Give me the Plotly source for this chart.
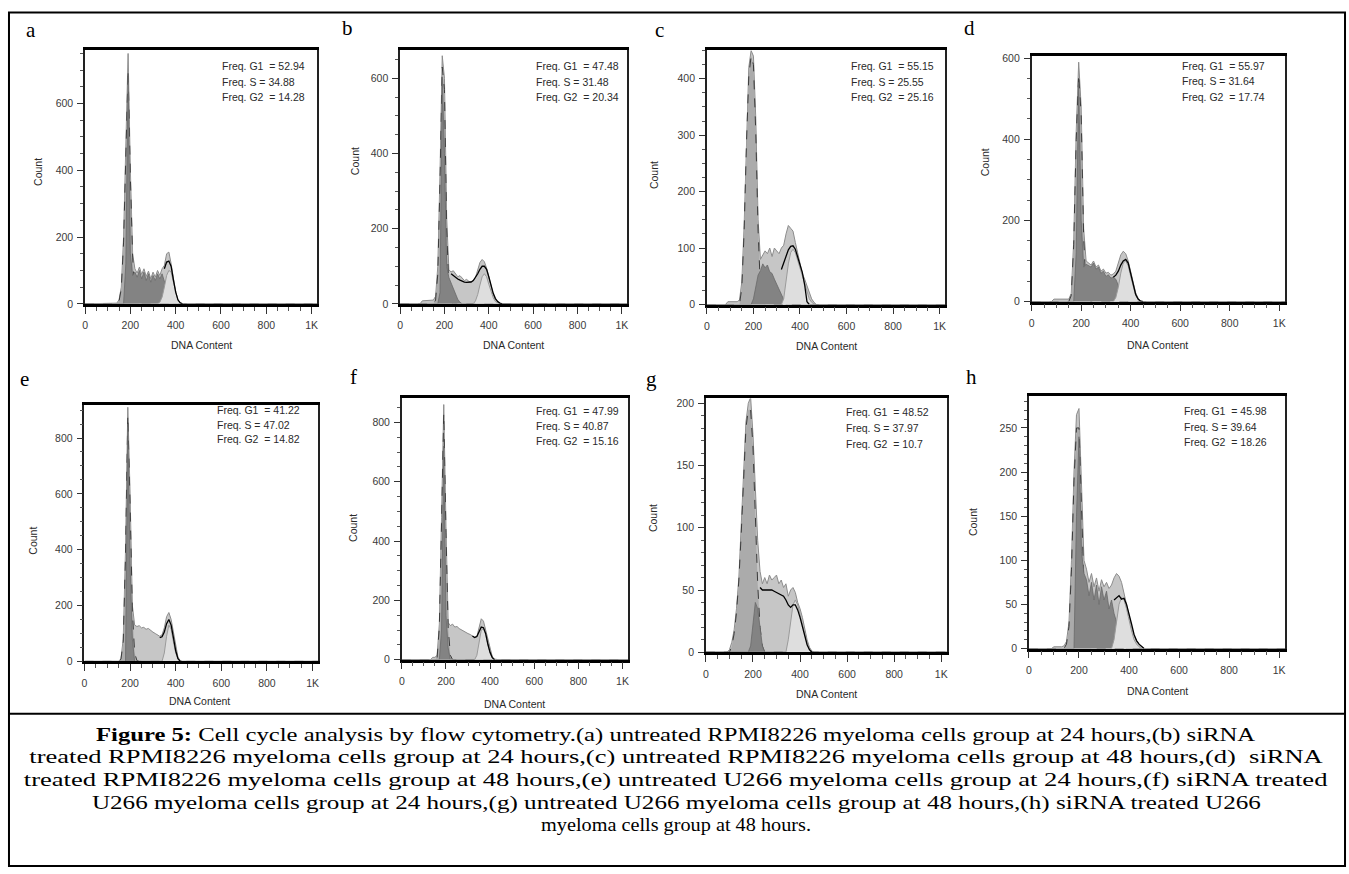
import plotly.graph_objects as go

W, H = 1349, 874

# ---------------- data ----------------
dna_bins = [80, 90, 100, 110, 120, 130, 140, 150, 160, 170,
            180, 190, 200, 210, 220, 230, 240, 250, 260, 270,
            280, 290, 300, 310, 320, 330, 340, 350, 360, 370,
            380, 390, 400, 410, 420, 430, 440, 450, 460, 470,
            480]
N = None

# panel a
a_total = [0, 0, 0, 0, 0, 0, 2, 12, 50, 200,
           480, 750, 400, 150, 105, 92, 110, 88, 105, 82,
           98, 75, 95, 80, 100, 85, 105, 115, 150, 155,
           120, 70, 35, 12, 3, 0, 0, 0, 0, 0, 0]
a_g1 = [0, 0, 0, 0, 0, 0, 0, 8, 45, 185,
        460, 700, 380, 140, 35, 5, 0, 0, 0, 0,
        0, 0, 0, 0, 0, 0, 0, 0, 0, 0,
        0, 0, 0, 0, 0, 0, 0, 0, 0, 0, 0]
a_core = [0, 0, 0, 0, 0, 0, 0, 0, 0, 0,
          120, 690, 150, 85, 95, 80, 100, 75, 95, 70,
          90, 65, 85, 70, 90, 75, 90, 70, 45, 20,
          8, 2, 0, 0, 0, 0, 0, 0, 0, 0, 0]
a_g2 = [0, 0, 0, 0, 0, 0, 0, 0, 0, 0,
        0, 0, 0, 0, 0, 0, 0, 0, 0, 0,
        0, 0, 0, 0, 0, 5, 20, 50, 85, 100,
        95, 65, 32, 10, 2, 0, 0, 0, 0, 0, 0]
a_fit = [N, N, N, N, N, N, N, N, N, N,
         N, N, N, N, N, N, N, N, N, N,
         N, N, N, N, N, N, N, 105, 125, 128,
         112, 72, 35, 12, 3, 0, N, N, N, N, N]

# panel b
b_total = [0, 0, 8, 8, 8, 8, 8, 10, 20, 100,
           350, 660, 600, 230, 90, 85, 88, 80, 72, 75,
           68, 62, 65, 60, 58, 62, 70, 90, 110, 118,
           112, 95, 70, 45, 25, 12, 5, 1, 0, 0, 0]
b_g1 = [0, 0, 0, 0, 0, 0, 0, 0, 10, 80,
        330, 630, 570, 200, 40, 5, 0, 0, 0, 0,
        0, 0, 0, 0, 0, 0, 0, 0, 0, 0,
        0, 0, 0, 0, 0, 0, 0, 0, 0, 0, 0]
b_core = [0, 0, 0, 0, 0, 0, 0, 0, 0, 0,
          30, 600, 400, 100, 70, 55, 40, 25, 12, 4,
          0, 0, 0, 0, 0, 0, 0, 0, 0, 0,
          0, 0, 0, 0, 0, 0, 0, 0, 0, 0, 0]
b_g2 = [0, 0, 0, 0, 0, 0, 0, 0, 0, 0,
        0, 0, 0, 0, 0, 0, 0, 0, 0, 0,
        0, 0, 0, 0, 0, 0, 8, 25, 50, 72,
        80, 72, 52, 32, 16, 6, 2, 0, 0, 0, 0]
b_fit = [N, N, N, N, N, N, N, N, N, N,
         N, N, N, N, N, 80, 75, 70, 66, 63,
         60, 58, 57, 57, 58, 62, 70, 80, 92, 100,
         100, 92, 72, 48, 28, 14, 6, 2, 0, N, N]

# panel c
c_total = [0, 5, 5, 5, 5, 5, 8, 40, 140, 300,
           420, 450, 440, 330, 150, 80, 88, 95, 90, 100,
           85, 100, 95, 90, 100, 105, 125, 140, 135, 130,
           110, 90, 70, 55, 45, 32, 20, 10, 4, 0, 0]
c_g1 = [0, 0, 0, 0, 0, 0, 0, 30, 130, 285,
        405, 440, 425, 305, 130, 30, 5, 0, 0, 0,
        0, 0, 0, 0, 0, 0, 0, 0, 0, 0,
        0, 0, 0, 0, 0, 0, 0, 0, 0, 0, 0]
c_core = [0, 0, 0, 0, 0, 0, 0, 0, 0, 0,
          0, 0, 10, 30, 52, 60, 72, 65, 70, 58,
          55, 45, 36, 25, 15, 6, 0, 0, 0, 0,
          0, 0, 0, 0, 0, 0, 0, 0, 0, 0, 0]
c_g2 = [0, 0, 0, 0, 0, 0, 0, 0, 0, 0,
        0, 0, 0, 0, 0, 0, 0, 0, 0, 0,
        0, 0, 0, 0, 0, 10, 40, 72, 92, 98,
        92, 78, 62, 50, 35, 20, 10, 4, 1, 0, 0]
c_fit = [N, N, N, N, N, N, N, N, N, N,
         N, N, N, N, N, N, N, N, N, N,
         N, N, N, N, 62, 75, 88, 97, 103, 104,
         98, 85, 70, 57, 35, 5, 0, N, N, N, N]

# panel d
d_total = [0, 6, 6, 6, 6, 6, 6, 6, 20, 150,
           420, 590, 480, 180, 100, 95, 90, 100, 85, 90,
           75, 80, 70, 72, 65, 68, 75, 95, 115, 124,
           118, 100, 72, 45, 22, 8, 2, 0, 0, 0, 0]
d_g1 = [0, 0, 0, 0, 0, 0, 0, 0, 15, 140,
        400, 560, 460, 160, 30, 5, 0, 0, 0, 0,
        0, 0, 0, 0, 0, 0, 0, 0, 0, 0,
        0, 0, 0, 0, 0, 0, 0, 0, 0, 0, 0]
d_core = [0, 0, 0, 0, 0, 0, 0, 0, 0, 0,
          120, 540, 200, 85, 92, 88, 85, 95, 80, 85,
          70, 75, 62, 66, 58, 60, 55, 40, 25, 12,
          4, 0, 0, 0, 0, 0, 0, 0, 0, 0, 0]
d_g2 = [0, 0, 0, 0, 0, 0, 0, 0, 0, 0,
        0, 0, 0, 0, 0, 0, 0, 0, 0, 0,
        0, 0, 0, 0, 0, 0, 10, 35, 70, 95,
        100, 88, 62, 35, 15, 5, 1, 0, 0, 0, 0]
d_fit = [N, N, N, N, N, N, N, N, N, N,
         N, N, N, N, N, N, N, N, N, N,
         N, N, N, N, N, 60, 65, 75, 90, 100,
         104, 95, 70, 42, 18, 6, 1, 0, N, N, N]

# panel e
e_total = [0, 0, 0, 0, 0, 0, 0, 0, 10, 80,
           400, 910, 600, 200, 130, 125, 128, 120, 122, 115,
           118, 110, 105, 100, 95, 90, 95, 120, 160, 175,
           150, 100, 50, 15, 3, 0, 0, 0, 0, 0, 0]
e_g1 = [0, 0, 0, 0, 0, 0, 0, 0, 8, 70,
        380, 880, 560, 180, 30, 3, 0, 0, 0, 0,
        0, 0, 0, 0, 0, 0, 0, 0, 0, 0,
        0, 0, 0, 0, 0, 0, 0, 0, 0, 0, 0]
e_core = [0, 0, 0, 0, 0, 0, 0, 0, 0, 0,
          0, 850, 350, 80, 0, 0, 0, 0, 0, 0,
          0, 0, 0, 0, 0, 0, 0, 0, 0, 0,
          0, 0, 0, 0, 0, 0, 0, 0, 0, 0, 0]
e_g2 = [0, 0, 0, 0, 0, 0, 0, 0, 0, 0,
        0, 0, 0, 0, 0, 0, 0, 0, 0, 0,
        0, 0, 0, 0, 0, 0, 0, 30, 90, 130,
        115, 70, 30, 8, 0, 0, 0, 0, 0, 0, 0]
e_fit = [N, N, N, N, N, N, N, N, N, N,
         N, N, N, N, N, N, N, N, N, N,
         N, N, N, N, N, 85, 88, 105, 135, 150,
         130, 85, 38, 10, 0, N, N, N, N, N, N]

# panel f
f_total = [0, 0, 0, 0, 0, 0, 8, 8, 15, 120,
           480, 860, 450, 125, 115, 120, 110, 112, 105, 100,
           98, 92, 88, 85, 80, 75, 78, 110, 138, 130,
           100, 60, 30, 10, 2, 0, 0, 0, 0, 0, 0]
f_g1 = [0, 0, 0, 0, 0, 0, 0, 0, 8, 110,
        460, 830, 430, 110, 15, 0, 0, 0, 0, 0,
        0, 0, 0, 0, 0, 0, 0, 0, 0, 0,
        0, 0, 0, 0, 0, 0, 0, 0, 0, 0, 0]
f_core = [0, 0, 0, 0, 0, 0, 0, 0, 0, 0,
          100, 720, 150, 40, 0, 0, 0, 0, 0, 0,
          0, 0, 0, 0, 0, 0, 0, 0, 0, 0,
          0, 0, 0, 0, 0, 0, 0, 0, 0, 0, 0]
f_g2 = [0, 0, 0, 0, 0, 0, 0, 0, 0, 0,
        0, 0, 0, 0, 0, 0, 0, 0, 0, 0,
        0, 0, 0, 0, 0, 0, 15, 60, 100, 105,
        85, 50, 22, 6, 0, 0, 0, 0, 0, 0, 0]
f_fit = [N, N, N, N, N, N, N, N, N, N,
         N, N, N, N, N, N, N, N, N, N,
         N, N, N, N, 80, 75, 78, 95, 110, 108,
         88, 52, 24, 7, 0, N, N, N, N, N, N]

# panel g
g_total = [0, 0, 2, 8, 18, 35, 60, 100, 140, 185,
           200, 205, 175, 130, 90, 65, 55, 60, 55, 62,
           58, 60, 62, 55, 58, 52, 55, 45, 50, 52,
           48, 40, 35, 28, 18, 10, 4, 1, 0, 0, 0]
g_g1 = [0, 0, 0, 5, 15, 32, 58, 95, 135, 180,
        195, 195, 165, 110, 55, 20, 5, 0, 0, 0,
        0, 0, 0, 0, 0, 0, 0, 0, 0, 0,
        0, 0, 0, 0, 0, 0, 0, 0, 0, 0, 0]
g_core = [0, 0, 0, 0, 0, 0, 0, 0, 0, 0,
          0, 5, 25, 40, 35, 18, 5, 0, 0, 0,
          0, 0, 0, 0, 0, 0, 0, 0, 0, 0,
          0, 0, 0, 0, 0, 0, 0, 0, 0, 0, 0]
g_g2 = [0, 0, 0, 0, 0, 0, 0, 0, 0, 0,
        0, 0, 0, 0, 0, 0, 0, 0, 0, 0,
        0, 0, 0, 0, 0, 0, 0, 10, 25, 38,
        42, 38, 30, 22, 14, 7, 2, 0, 0, 0, 0]
g_fit = [N, N, N, N, N, N, N, N, N, N,
         N, N, N, N, N, 52, 50, 50, 50, 50,
         50, 49, 48, 47, 46, 45, 42, 38, 36, 38,
         38, 34, 28, 20, 12, 6, 2, 0, N, N, N]

# panel h
h_total = [0, 0, 2, 2, 2, 2, 3, 8, 30, 100,
           200, 265, 272, 180, 100, 90, 75, 85, 70, 80,
           65, 78, 70, 75, 68, 72, 80, 85, 82, 75,
           62, 50, 38, 25, 15, 9, 5, 2, 0, 0, 0]
h_g1 = [0, 0, 0, 0, 0, 0, 0, 5, 25, 90,
        190, 250, 250, 160, 70, 20, 5, 0, 0, 0,
        0, 0, 0, 0, 0, 0, 0, 0, 0, 0,
        0, 0, 0, 0, 0, 0, 0, 0, 0, 0, 0]
h_core = [0, 0, 0, 0, 0, 0, 0, 0, 0, 0,
          0, 150, 240, 110, 85, 78, 60, 75, 55, 72,
          50, 70, 55, 65, 45, 55, 40, 30, 20, 10,
          4, 0, 0, 0, 0, 0, 0, 0, 0, 0, 0]
h_g2 = [0, 0, 0, 0, 0, 0, 0, 0, 0, 0,
        0, 0, 0, 0, 0, 0, 0, 0, 0, 0,
        0, 0, 0, 0, 0, 0, 10, 30, 50, 58,
        55, 45, 32, 20, 10, 5, 2, 0, 0, 0, 0]
h_fit = [N, N, N, N, N, N, N, N, N, N,
         N, N, N, N, N, N, N, N, N, N,
         N, N, N, N, N, N, 55, 58, 60, 56,
         57, 50, 40, 28, 16, 9, 5, 2, 0, N, N]

panel_letters = ["a", "b", "c", "d", "e", "f", "g", "h"]
freq_g1 = [52.94, 47.48, 55.15, 55.97, 41.22, 47.99, 48.52, 45.98]
freq_s = [34.88, 31.48, 25.55, 31.64, 47.02, 40.87, 37.97, 39.64]
freq_g2 = [14.28, 20.34, 25.16, 17.74, 14.82, 15.16, 10.7, 18.26]
x_tick_vals = [0, 200, 400, 600, 800, 1000]
x_tick_text = ["0", "200", "400", "600", "800", "1K"]

caption_lines = [
    "<b>Figure 5:</b> Cell cycle analysis by flow cytometry.(a) untreated RPMI8226 myeloma cells group at 24 hours,(b) siRNA",
    "treated RPMI8226 myeloma cells group at 24 hours,(c) untreated RPMI8226 myeloma cells group at 48 hours,(d)\u00a0 siRNA",
    "treated RPMI8226 myeloma cells group at 48 hours,(e) untreated U266 myeloma cells group at 24 hours,(f) siRNA treated",
    "U266 myeloma cells group at 24 hours,(g) untreated U266 myeloma cells group at 48 hours,(h) siRNA treated U266",
    "myeloma cells group at 48 hours.",
]

series = [
    (a_total, a_g1, a_core, a_g2, a_fit),
    (b_total, b_g1, b_core, b_g2, b_fit),
    (c_total, c_g1, c_core, c_g2, c_fit),
    (d_total, d_g1, d_core, d_g2, d_fit),
    (e_total, e_g1, e_core, e_g2, e_fit),
    (f_total, f_g1, f_core, f_g2, f_fit),
    (g_total, g_g1, g_core, g_g2, g_fit),
    (h_total, h_g1, h_core, h_g2, h_fit),
]

# ---------------- layout (pixel geometry) ----------------
boxes = [
    (82.3, 315, 47, 303.3, 759, 200, 50),
    (398.3, 626, 47, 303.3, 674, 200, 50),
    (706, 945, 47, 304, 450, 100, 25),
    (1031.7, 1286, 52.7, 301, 605, 200, 50),
    (81.7, 316, 406, 665, 917, 200, 50),
    (400, 626.7, 398.3, 663.3, 883, 200, 50),
    (705, 946.7, 399, 655.7, 204, 50, 10),
    (1029, 1286, 396.7, 652, 286, 50, 10),
]
letter_pos = [(28, 26), (346, 24), (658, 26), (969, 24),
              (22, 379), (352, 377), (650, 379), (971, 377)]
freq_pos = [(218, 63, 79, 94), (533, 63, 79, 94), (849, 63, 79, 94), (1181, 63, 78, 94),
            (213, 411, 426, 440), (533, 412, 427, 442), (843, 413, 429, 445), (1183, 412, 428, 443)]
count_pos = [(35, 170), (353, 159), (653, 173), (985, 160),
             (30, 543), (351, 530), (652, 520), (973, 524)]
dna_pos = [(199, 345), (512, 345), (826, 346), (1158, 345),
           (197, 705), (513, 708), (826, 698), (1158, 695)]
caption_y = [739, 762, 785, 808, 830]
caption_width = [1160, 1294, 1305, 1170, 270]


def px(x):
    return x / W


def py(y):
    return 1 - y / H


fig = go.Figure()
annotations = []
layout_axes = {}

x_full = [0] + dna_bins + [1024]

for i, (letter, ser, box) in enumerate(zip(panel_letters, series, boxes)):
    k = i + 1
    total, g1, core, g2, fit = ser
    l, r, t, b, ymax, ydt, ymin = box
    xa = "x" if k == 1 else f"x{k}"
    ya = "y" if k == 1 else f"y{k}"

    fig.add_trace(go.Scatter(x=x_full, y=[0] + total + [0], xaxis=xa, yaxis=ya,
                             mode="lines", fill="tozeroy", fillcolor="#c6c6c6",
                             line=dict(color="#8c8c8c", width=1), hoverinfo="skip"))
    fig.add_trace(go.Scatter(x=x_full, y=[0] + g1 + [0], xaxis=xa, yaxis=ya,
                             mode="lines", fill="tozeroy", fillcolor="#ababab",
                             line=dict(color="#3a3a3a", width=1, dash="dash"), hoverinfo="skip"))
    fig.add_trace(go.Scatter(x=x_full, y=[0] + core + [0], xaxis=xa, yaxis=ya,
                             mode="lines", fill="tozeroy", fillcolor="#838383",
                             line=dict(color="#6a6a6a", width=0.8), hoverinfo="skip"))
    fig.add_trace(go.Scatter(x=x_full, y=[0] + g2 + [0], xaxis=xa, yaxis=ya,
                             mode="lines", fill="tozeroy", fillcolor="#dedede",
                             line=dict(color="#9a9a9a", width=1), hoverinfo="skip"))
    fig.add_trace(go.Scatter(x=dna_bins, y=fit, xaxis=xa, yaxis=ya,
                             mode="lines", line=dict(color="#000000", width=1.3),
                             connectgaps=False, hoverinfo="skip"))

    xkey = "xaxis" if k == 1 else f"xaxis{k}"
    ykey = "yaxis" if k == 1 else f"yaxis{k}"
    layout_axes[xkey] = dict(
        domain=[px(l), px(r)], anchor=ya, range=[0, 1024],
        tickmode="array", tickvals=x_tick_vals, ticktext=x_tick_text,
        ticks="outside", ticklen=7, tickwidth=1, tickcolor="#333333",
        minor=dict(tickmode="linear", tick0=0, dtick=50, ticks="outside", ticklen=4,
                   tickcolor="#555555", showgrid=False),
        showline=True, linecolor="#000000", linewidth=2.5, mirror=True,
        showgrid=False, zeroline=False, ticklabelstandoff=3,
        tickfont=dict(family="Liberation Sans, Arial", size=10.5, color="#3a3a3a"),
    )
    layout_axes[ykey] = dict(
        domain=[py(b), py(t)], anchor=xa, range=[0, ymax],
        tickmode="linear", tick0=0, dtick=ydt,
        ticks="outside", ticklen=6, tickwidth=1, tickcolor="#333333",
        minor=dict(tickmode="linear", tick0=0, dtick=ymin, ticks="outside", ticklen=3,
                   tickcolor="#555555", showgrid=False),
        showline=True, linecolor="#222222", linewidth=1.5, mirror=True,
        showgrid=False, zeroline=False, ticklabelstandoff=2,
        tickfont=dict(family="Liberation Sans, Arial", size=10.5, color="#3a3a3a"),
    )

    lx, ly = letter_pos[i]
    annotations.append(dict(x=px(lx), y=py(ly), xref="paper", yref="paper", text=letter,
                            showarrow=False, xanchor="center", yanchor="middle",
                            font=dict(family="Liberation Serif, Times New Roman", size=21, color="#000")))
    fx, fy1, fy2, fy3 = freq_pos[i]
    for txt, fy in ((f"Freq. G1 \u00a0= {freq_g1[i]}", fy1),
                    (f"Freq. S = {freq_s[i]}", fy2),
                    (f"Freq. G2 \u00a0= {freq_g2[i]}", fy3)):
        annotations.append(dict(x=px(fx), y=py(fy), xref="paper", yref="paper", text=txt,
                                showarrow=False, xanchor="left", yanchor="middle",
                                font=dict(family="Liberation Sans, Arial", size=10.5, color="#2a2a2a")))
    cx, cy = count_pos[i]
    annotations.append(dict(x=px(cx), y=py(cy), xref="paper", yref="paper", text="Count",
                            showarrow=False, textangle=-90, xanchor="center", yanchor="middle",
                            font=dict(family="Liberation Sans, Arial", size=10.5, color="#2a2a2a")))
    dx, dy = dna_pos[i]
    annotations.append(dict(x=px(dx), y=py(dy), xref="paper", yref="paper", text="DNA Content",
                            showarrow=False, xanchor="center", yanchor="middle",
                            font=dict(family="Liberation Sans, Arial", size=10.5, color="#2a2a2a")))

caption_index = {}
for line, cy, cw in zip(caption_lines, caption_y, caption_width):
    caption_index[len(annotations)] = cw
    annotations.append(dict(x=px(675), y=py(cy), xref="paper", yref="paper", text=line,
                            showarrow=False, xanchor="center", yanchor="middle",
                            font=dict(family="Liberation Serif, Times New Roman", size=19.5, color="#000")))

shapes = [
    dict(type="rect", xref="paper", yref="paper", x0=px(6), x1=px(1346), y0=py(872), y1=py(8.5),
         line=dict(color="#000", width=2), fillcolor="rgba(0,0,0,0)", layer="above"),
    dict(type="line", xref="paper", yref="paper", x0=px(6), x1=px(1346), y0=py(718), y1=py(718),
         line=dict(color="#000", width=2), layer="above"),
]

fig.update_layout(
    width=W, height=H, margin=dict(l=0, r=0, t=0, b=0),
    paper_bgcolor="white", plot_bgcolor="white", showlegend=False,
    annotations=annotations, shapes=shapes, **layout_axes,
)

targets_js = "{" + ",".join('"%d":%d' % (k, v) for k, v in caption_index.items()) + "}"
post = (
    "document.body.style.margin='0';document.body.style.overflow='hidden';"
    "var gd=document.getElementById('{plot_id}');"
    "var targets=" + targets_js + ";"
    "function stretchCaption(){"
    " var anns=gd.querySelectorAll('g.annotation');"
    " for(var j=0;j<anns.length;j++){"
    "  var a=anns[j]; var idx=a.getAttribute('data-index');"
    "  if(!(idx in targets)) continue;"
    "  var t=a.querySelector('text.annotation-text');"
    "  var g=a.querySelector('g.annotation-text-g');"
    "  if(!t||!g) continue;"
    "  if(!g.hasAttribute('data-orig')) g.setAttribute('data-orig', g.getAttribute('transform')||'');"
    "  var w=t.getBBox().width; if(!w) continue;"
    "  var s=targets[idx]/w; var cx=675;"
    "  g.setAttribute('transform', g.getAttribute('data-orig')+' translate('+cx+',0) scale('+s+',1) translate('+(-cx)+',0)');"
    " }"
    "}"
    "stretchCaption(); gd.on('plotly_afterplot', stretchCaption);"
)

fig.write_html("out.html", config={"displayModeBar": False}, post_script=post)
